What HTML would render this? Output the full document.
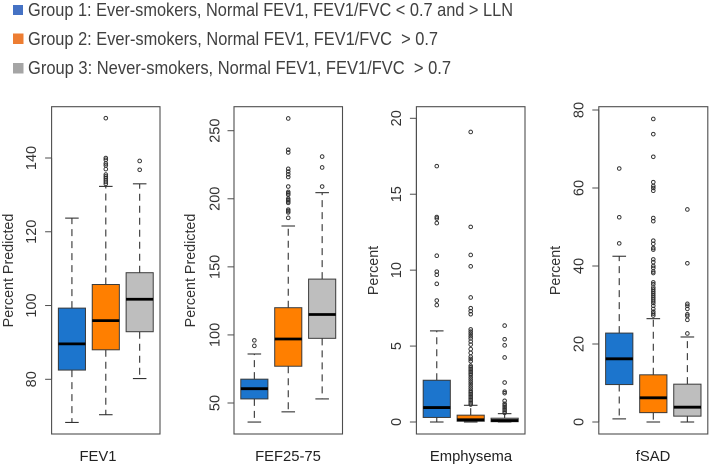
<!DOCTYPE html>
<html lang="en">
<head>
<meta charset="utf-8">
<title>Boxplots by group</title>
<style>
html,body{margin:0;padding:0;background:#fff;width:709px;height:466px;overflow:hidden}
svg{display:block;font-family:"Liberation Sans",sans-serif}
</style>
</head>
<body>
<svg id="chart" xmlns="http://www.w3.org/2000/svg" width="709" height="466" viewBox="0 0 709 466">
  <defs><filter id="soft" x="-5%" y="-5%" width="110%" height="110%"><feGaussianBlur stdDeviation="0.3"/></filter></defs>
  <g id="legend" filter="url(#soft)" fill="#404040" font-size="18">
    <g>
      <rect x="13" y="5" width="10" height="10" fill="#4472c4"/>
      <text x="28" y="16" textLength="485" lengthAdjust="spacingAndGlyphs">Group 1: Ever-smokers, Normal FEV1, FEV1/FVC &lt; 0.7 and &gt; LLN</text>
    </g>
    <g>
      <rect x="13" y="33.5" width="10.5" height="10.5" fill="#ed7d31"/>
      <text x="28" y="45" textLength="410" lengthAdjust="spacingAndGlyphs">Group 2: Ever-smokers, Normal FEV1, FEV1/FVC&#160;&#160;&gt; 0.7</text>
    </g>
    <g>
      <rect x="13" y="63" width="10.5" height="10.5" fill="#a5a5a5"/>
      <text x="28" y="74" textLength="423" lengthAdjust="spacingAndGlyphs">Group 3: Never-smokers, Normal FEV1, FEV1/FVC&#160;&#160;&gt; 0.7</text>
    </g>
  </g>
  <g id="plots" filter="url(#soft)"></g>
</svg>
<script>
// Box stats: whisker low, Q1, median, Q3, whisker high
const fev1Group1 = [68.3, 82.5, 89.6, 99.3, 123.7];
const fev1Group2 = [70.4, 88, 95.9, 105.7, 132.3];
const fev1Group3 = [80.2, 92.9, 101.7, 108.9, 133];
const fev1Out1 = [];
const fev1Out2 = [133, 133.5, 134, 134.5, 135, 135.5, 137, 138, 138.5, 139.5, 140, 150.8];
const fev1Out3 = [136.8, 139.2];
const fev1Ticks = [80, 100, 120, 140];

const fefGroup1 = [36, 53, 60.5, 67.5, 86];
const fefGroup2 = [43.5, 77, 97, 120, 180];
const fefGroup3 = [53, 97.5, 115, 141, 204.5];
const fefOut1 = [92, 96];
const fefOut2 = [186, 190, 191, 192, 197, 198, 199, 200, 203, 204, 205, 209, 216, 218, 220, 222, 234, 236, 259];
const fefOut3 = [209, 223, 231];
const fefTicks = [50, 100, 150, 200, 250];

const empGroup1 = [0, 0.3, 0.95, 2.75, 6];
const empGroup2 = [0, 0.05, 0.15, 0.45, 1.1];
const empGroup3 = [0, 0.02, 0.1, 0.25, 0.55];
const empOut1 = [7.7, 8, 9.1, 9.7, 9.9, 10.95, 13.1, 13.4, 13.5, 16.85];
const empOut2 = [1.15, 1.25, 1.35, 1.45, 1.55, 1.65, 1.75, 1.85, 1.95, 2.05, 2.2, 2.35, 2.5, 2.65, 2.8, 2.95, 3.1, 3.2, 3.3, 3.4, 3.5, 3.6, 3.7, 4, 4.15, 4.3, 4.55, 4.8, 5.1, 5.3, 5.5, 5.65, 5.8, 5.95, 6.1, 7.1, 7.3, 7.5, 8.2, 10.25, 11, 12.85, 19.1];
const empOut3 = [0.6, 0.7, 0.8, 0.9, 1, 1.1, 1.2, 1.4, 1.9, 2, 2.6, 4.25, 5.05, 5.45, 6.35];
const empTicks = [0, 5, 10, 15, 20];

const fsadGroup1 = [0.8, 9.6, 16.2, 22.8, 42.5];
const fsadGroup2 = [0, 2.4, 6.2, 12.1, 26.5];
const fsadGroup3 = [0, 1.5, 3.8, 9.7, 21.8];
const fsadOut1 = [45.8, 52.5, 65];
const fsadOut2 = [27.3, 27.8, 28.3, 29, 29.8, 30.5, 31, 31.5, 32, 32.5, 33, 33.5, 34, 34.5, 35.3, 35.8, 38.2, 38.6, 39.5, 40, 41, 41.7, 44.2, 44.6, 45.7, 46.5, 51.5, 52.3, 59.3, 60, 60.5, 61.5, 68, 73.8, 77.7];
const fsadOut3 = [22.7, 26.2, 27.2, 27.6, 29, 29.8, 30.3, 40.7, 54.5];
const fsadTicks = [0, 20, 40, 60, 80];

const groupColors = ['#1a74cd', '#ff7f00', '#bebebe'];

const NS = 'http://www.w3.org/2000/svg';
const plots = document.getElementById('plots');
const frameTop = 106.7;
const frameBottom = 434;

function make(parent, tag, attrs, text) {
  const el = document.createElementNS(NS, tag);
  for (const k in attrs) el.setAttribute(k, attrs[k]);
  if (text !== undefined) el.textContent = text;
  parent.appendChild(el);
  return el;
}

function drawPanel(p) {
  const g = make(plots, 'g', {});
  
  

  // y axis function: linear through two calibrated tick lines
  const pxPerUnit = (p.pxLow - p.pxHigh) / (p.vHigh - p.vLow);
  const y = v => p.pxLow - (v - p.vLow) * pxPerUnit;
  // x axis function: categories 1..3 on xlim 0.4..3.6
  const x = c => p.left + (c - 0.4) / 3.2 * (p.right - p.left);
  const unit = (p.right - p.left) / 3.2;
  const boxW = unit * 0.8;
  const capW = unit * 0.4;

  const frame = make(g, 'rect', {x: p.left, y: frameTop, width: p.right - p.left, height: frameBottom - frameTop, fill: 'none', stroke: '#4d4d4d', 'stroke-width': 1.1});
  
  

  const axis = make(g, 'g', {});
  
  
  make(axis, 'line', {x1: p.left, x2: p.left, y1: y(p.ticks[0]), y2: y(p.ticks[p.ticks.length - 1]), stroke: '#4d4d4d', 'stroke-width': 1});
  p.ticks.forEach(t => {
    const tick = make(axis, 'line', {x1: p.left - 6.5, x2: p.left, y1: y(t), y2: y(t), stroke: '#4d4d4d', 'stroke-width': 1});
    
    
    const label = make(axis, 'text', {transform: 'translate(' + p.tickX + ',' + y(t) + ') rotate(-90)', 'text-anchor': 'middle', 'font-size': 14.5, fill: '#333'}, t);
    
    
  });

  const yTitle = make(g, 'text', {transform: 'translate(' + p.titleX + ',270.5) rotate(-90)', 'text-anchor': 'middle', 'font-size': 14.3, fill: '#333'}, p.yTitle);
  
  

  const xTitle = make(g, 'text', {x: p.xLabelX, y: 461, 'text-anchor': 'middle', 'font-size': 14.8, fill: '#222'}, p.xLabel);
  
  

  p.stats.forEach((s, i) => {
    const c = x(i + 1);
    const box = make(g, 'g', {});
    
    
    const whisk = {stroke: '#333', 'stroke-width': 1.1, 'stroke-dasharray': '7 5'};
    const cap = {stroke: '#333', 'stroke-width': 1.1};
    make(box, 'line', Object.assign({x1: c, x2: c, y1: y(s[3]), y2: y(s[4])}, whisk));
    make(box, 'line', Object.assign({x1: c, x2: c, y1: y(s[1]), y2: y(s[0])}, whisk));
    make(box, 'line', Object.assign({x1: c - capW / 2, x2: c + capW / 2, y1: y(s[4]), y2: y(s[4])}, cap));
    make(box, 'line', Object.assign({x1: c - capW / 2, x2: c + capW / 2, y1: y(s[0]), y2: y(s[0])}, cap));
    make(box, 'rect', {x: c - boxW / 2, y: y(s[3]), width: boxW, height: y(s[1]) - y(s[3]), fill: groupColors[i], stroke: '#3a3a3a', 'stroke-width': 1});
    make(box, 'line', {x1: c - boxW / 2, x2: c + boxW / 2, y1: y(s[2]), y2: y(s[2]), stroke: '#000', 'stroke-width': 2.8});
    p.outliers[i].forEach(v => {
      const pt = make(box, 'circle', {cx: c, cy: y(v), r: 1.8, fill: 'none', stroke: '#333', 'stroke-width': 1});
      
      
    });
  });
}

drawPanel({slug: 'fev1', left: 51.6, right: 160, tickX: 36, titleX: 13, xLabelX: 98, xLabel: 'FEV1', yTitle: 'Percent Predicted', vLow: 80, vHigh: 140, pxLow: 379.3, pxHigh: 158,
  ticks: fev1Ticks, stats: [fev1Group1, fev1Group2, fev1Group3], outliers: [fev1Out1, fev1Out2, fev1Out3]});
drawPanel({slug: 'fef25-75', left: 234, right: 342.5, tickX: 219.6, titleX: 195, xLabelX: 288, xLabel: 'FEF25-75', yTitle: 'Percent Predicted', vLow: 50, vHigh: 250, pxLow: 403, pxHigh: 130.7,
  ticks: fefTicks, stats: [fefGroup1, fefGroup2, fefGroup3], outliers: [fefOut1, fefOut2, fefOut3]});
drawPanel({slug: 'emphysema', left: 416.4, right: 525, tickX: 401, titleX: 378, xLabelX: 471, xLabel: 'Emphysema', yTitle: 'Percent', vLow: 0, vHigh: 20, pxLow: 422, pxHigh: 118.3,
  ticks: empTicks, stats: [empGroup1, empGroup2, empGroup3], outliers: [empOut1, empOut2, empOut3]});
drawPanel({slug: 'fsad', left: 598.8, right: 707.8, tickX: 583.6, titleX: 560, xLabelX: 653, xLabel: 'fSAD', yTitle: 'Percent', vLow: 0, vHigh: 80, pxLow: 422, pxHigh: 110,
  ticks: fsadTicks, stats: [fsadGroup1, fsadGroup2, fsadGroup3], outliers: [fsadOut1, fsadOut2, fsadOut3]});
</script>
</body>
</html>
